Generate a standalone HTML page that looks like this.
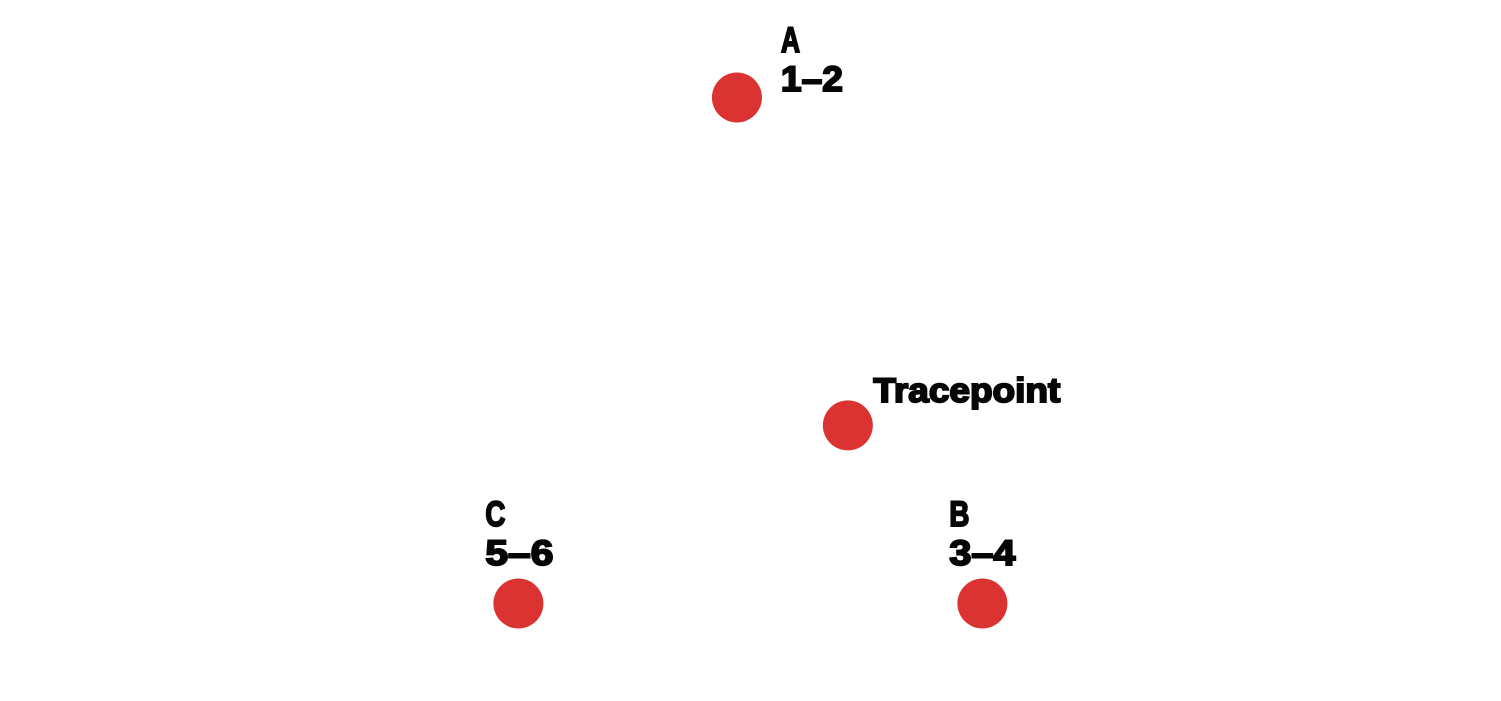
<!DOCTYPE html>
<html lang="en">
<head>
<meta charset="utf-8">
<title>Tracepoint chart</title>
<style>
  html, body { margin: 0; padding: 0; background: #fff; width: 1501px; height: 701px; overflow: hidden; }
  svg { display: block; }
  text {
    font-family: "Liberation Sans", sans-serif;
    font-weight: 700;
    fill: #060606;
    stroke: #060606;
    stroke-width: 1.9px;
    stroke-linejoin: miter;
  }
  circle { fill: #db3232; }
</style>
</head>
<body>
<svg id="chart" width="1501" height="701" viewBox="0 0 1501 701" xmlns="http://www.w3.org/2000/svg"></svg>
<script>
const names = ['A', 'B', 'C', 'Tracepoint'];
const ranges = ['1–2', '3–4', '5–6', ''];
const xValues = [0.471, 1, 0, 0.71];
const yValues = [1, 0, 0, 0.352];

const svgNS = 'http://www.w3.org/2000/svg';
const chart = document.getElementById('chart');

function xScale(v) { return 518.4 + v * 464; }
function yScale(v) { return 603.5 - v * 506; }

function labelLayout(name) {
  if (name === 'A') return { dx: 44, nameDy: -45.5, rangeDy: -6.5, nameW: 19, rangeW: 62, size: 35 };
  if (name === 'B') return { dx: -33, nameDy: -77.5, rangeDy: -38.5, nameW: 20, rangeW: 66, size: 35 };
  if (name === 'C') return { dx: -33, nameDy: -77.5, rangeDy: -38.5, nameW: 20, rangeW: 68, size: 35 };
  return { dx: 25.5, nameDy: -23.5, rangeDy: 0, nameW: 187, rangeW: 0, size: 34 };
}

function addText(content, x, y, width, size) {
  const t = document.createElementNS(svgNS, 'text');
  t.setAttribute('x', x);
  t.setAttribute('y', y);
  t.setAttribute('font-size', size);
  t.setAttribute('textLength', width);
  t.setAttribute('lengthAdjust', 'spacingAndGlyphs');
  t.textContent = content;
  chart.appendChild(t);
  return t;
}

names.forEach(function (name, i) {
  const cx = xScale(xValues[i]);
  const cy = yScale(yValues[i]);
  const slug = name.toLowerCase();

  const dot = document.createElementNS(svgNS, 'circle');
  dot.setAttribute('cx', cx);
  dot.setAttribute('cy', cy);
  dot.setAttribute('r', 25);
  
  
  chart.appendChild(dot);

  const layout = labelLayout(name);
  const nameLabel = addText(name, cx + layout.dx, cy + layout.nameDy, layout.nameW, layout.size);
  
  

  if (ranges[i]) {
    const rangeLabel = addText(ranges[i], cx + layout.dx, cy + layout.rangeDy, layout.rangeW, layout.size);
    
    
  }
});
</script>
</body>
</html>
